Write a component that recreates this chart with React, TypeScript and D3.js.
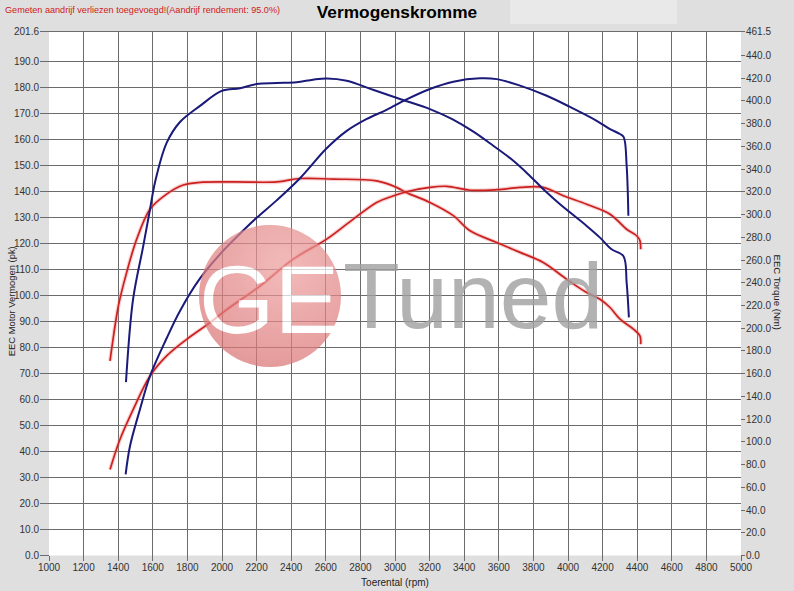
import React from "react";
import * as d3 from "d3";

// ---------- data ----------
const title = "Vermogenskromme";
const note = "Gemeten aandrijf verliezen toegevoegd!(Aandrijf rendement: 95.0%)";
const xLabel = "Toerental (rpm)";
const yLeftLabel = "EEC Motor Vermogen (pk)";
const yRightLabel = "EEC Torque (Nm)";

const xTicks = [1000, 1200, 1400, 1600, 1800, 2000, 2200, 2400, 2600, 2800, 3000, 3200, 3400, 3600, 3800, 4000, 4200, 4400, 4600, 4800, 5000];
const leftTicks = [0, 10, 20, 30, 40, 50, 60, 70, 80, 90, 100, 110, 120, 130, 140, 150, 160, 170, 180, 190, 201.6];
const rightTicks = [0, 20, 40, 60, 80, 100, 120, 140, 160, 180, 200, 220, 240, 260, 280, 300, 320, 340, 360, 380, 400, 420, 440, 461.5];

// tuned power (pk)
const tunedPowerRpm = [1443, 1468, 1526, 1584, 1680, 1757, 1873, 1998, 2124, 2200, 2316, 2451, 2605, 2721, 2837, 2951, 3067, 3202, 3337, 3491, 3588, 3723, 3877, 4012, 4166, 4243, 4300, 4322, 4339, 4349];
const tunedPowerPk = [31.2, 42, 56.2, 69, 83.5, 94, 106.5, 116.5, 125, 129.8, 136.5, 145, 156.5, 163.2, 167.8, 171.3, 175.3, 179.3, 182.1, 183.4, 183.1, 180.6, 176.7, 172.4, 167.1, 163.9, 162, 160.8, 149.8, 130.6];

// tuned torque (Nm)
const tunedTorqueRpm = [1445, 1486, 1545, 1584, 1613, 1680, 1757, 1873, 1998, 2104, 2200, 2316, 2431, 2526, 2605, 2721, 2873, 3050, 3202, 3328, 3453, 3568, 3684, 3780, 3867, 3954, 4108, 4185, 4252, 4320, 4339, 4352];
const tunedTorqueNm = [152.5, 225.5, 272.4, 304.7, 328.5, 363, 381.4, 395.6, 408.8, 411.1, 414.8, 415.7, 416.4, 418.7, 419.8, 417.8, 409.8, 400.6, 392.8, 384.1, 372.9, 360.5, 347.3, 334, 320.9, 309, 290, 279.7, 269.4, 263.5, 240, 209.5];

// stock torque (Nm)
const stockTorqueRpm = [1353, 1362, 1401, 1449, 1507, 1584, 1680, 1776, 1873, 2066, 2316, 2451, 2643, 2894, 3009, 3067, 3202, 3337, 3434, 3588, 3723, 3857, 3992, 4108, 4185, 4243, 4301, 4378, 4416, 4420];
const stockTorqueNm = [171.2, 181.5, 219.5, 249.1, 278.4, 304.7, 318, 326, 328.3, 328.7, 328.7, 331.7, 331.2, 329.6, 323.9, 319.3, 310.6, 299, 285.7, 275.4, 266.7, 257.8, 243.1, 231.4, 225.5, 218.2, 207.9, 199.2, 193.2, 185.9];

// stock power (pk)
const stockPowerRpm = [1353, 1410, 1487, 1584, 1680, 1796, 1931, 2027, 2220, 2412, 2605, 2759, 2894, 2980, 3067, 3202, 3299, 3434, 3588, 3723, 3857, 3973, 4108, 4243, 4339, 4397, 4416, 4420];
const stockPowerPk = [33.1, 44.6, 56.2, 69, 76.7, 83.1, 89.5, 94.5, 103.6, 113.9, 121.6, 129.3, 135.7, 138, 139.8, 141.5, 141.9, 140.4, 140.6, 141.5, 141.5, 138.3, 135, 131.2, 125.4, 122.9, 121, 117.7];

// ---------- layout ----------
const W = 794;
const H = 591;
const X0 = 49, X1 = 741, YB = 555.5, YT = 31;
const FONT = "'Liberation Sans', Arial, Helvetica, sans-serif";

export default function App() {
  const x = d3.scaleLinear().domain([1000, 5000]).range([X0, X1]);
  const yL = d3.scaleLinear().domain([0, 201.6]).range([YB, YT]);
  const yR = d3.scaleLinear().domain([0, 461.5]).range([YB, YT]);

  const mk = (rpm: number[], vals: number[], ys: d3.ScaleLinear<number, number>) =>
    d3
      .line<number>()
      .x((_, i) => x(rpm[i]))
      .y((v) => ys(v))
      .curve(d3.curveCatmullRom.alpha(0.5))(vals) || "";

  const blue = "#1a1a7a";
  const red = "#cc2020";

  const series = [
    { d: mk(stockTorqueRpm, stockTorqueNm, yR), c: red, halo: true },
    { d: mk(stockPowerRpm, stockPowerPk, yL), c: red, halo: true },
    { d: mk(tunedTorqueRpm, tunedTorqueNm, yR), c: blue, halo: false },
    { d: mk(tunedPowerRpm, tunedPowerPk, yL), c: blue, halo: false },
  ];

  return (
    <svg
      width={W}
      height={H}
      style={{ position: "absolute", left: 0, top: 0, display: "block" }}
      fontFamily={FONT}
    >
      <defs>
        <radialGradient id="wmGrad" cx="0.6" cy="0.3" r="0.8">
          <stop offset="0" stopColor="#eea0a0" />
          <stop offset="1" stopColor="#d97070" />
        </radialGradient>
      </defs>
      <rect x={0} y={0} width={W} height={H} fill="#dfdfdf" />
      <rect x={510} y={0} width={167} height={24} fill="#e9e9e9" />
      <rect x={X0} y={YT} width={X1 - X0} height={YB - YT} fill="#ffffff" />

      {/* header */}
      <text x={5} y={13} fontSize={9.1} fill="#d02020">
        {note}
      </text>
      <text x={397} y={18} fontSize={17.3} fontWeight="bold" textAnchor="middle" fill="#000">
        {title}
      </text>

      {/* grid */}
      {xTicks.slice(1, -1).map((t) => (
        <line key={"gx" + t} x1={x(t)} x2={x(t)} y1={YT} y2={YB} stroke="#6b6b6b" strokeWidth={1} shapeRendering="crispEdges" />
      ))}
      {leftTicks.slice(1).map((t) => (
        <line key={"gy" + t} x1={X0} x2={X1} y1={yL(t)} y2={yL(t)} stroke="#6b6b6b" strokeWidth={1} shapeRendering="crispEdges" />
      ))}

      {/* left axis */}
      {leftTicks.map((t) => (
        <g key={"lt" + t}>
          <line x1={X0 - 9} x2={X0} y1={yL(t)} y2={yL(t)} stroke="#6b6b6b" shapeRendering="crispEdges" />
          <text x={X0 - 10} y={yL(t) + 3.5} fontSize={10} textAnchor="end" fill="#333">
            {t.toFixed(1)}
          </text>
        </g>
      ))}
      {/* right axis */}
      {rightTicks.map((t) => (
        <g key={"rt" + t}>
          <line x1={X1} x2={X1 + 4} y1={yR(t)} y2={yR(t)} stroke="#6b6b6b" shapeRendering="crispEdges" />
          <text x={X1 + 5} y={yR(t) + 3.5} fontSize={10} textAnchor="start" fill="#333">
            {t.toFixed(1)}
          </text>
        </g>
      ))}
      {/* x axis */}
      {xTicks.map((t) => (
        <g key={"xt" + t}>
          <line x1={x(t)} x2={x(t)} y1={YB} y2={YB + 5} stroke="#6b6b6b" shapeRendering="crispEdges" />
          <text x={x(t)} y={571} fontSize={10} textAnchor="middle" fill="#333">
            {t}
          </text>
        </g>
      ))}
      <text x={(X0 + X1) / 2} y={586} fontSize={10} textAnchor="middle" fill="#222">
        {xLabel}
      </text>
      <text
        transform={`translate(15, ${(YT + YB) / 2 + 8}) rotate(-90)`}
        fontSize={9.4}
        textAnchor="middle"
        fill="#222"
      >
        {yLeftLabel}
      </text>
      <text
        transform={`translate(774, ${(YT + YB) / 2 - 1}) rotate(90)`}
        fontSize={9.6}
        textAnchor="middle"
        fill="#222"
      >
        {yRightLabel}
      </text>

      {/* curves */}
      {series.map((s, i) => (
        <g key={"s" + i}>
          {s.halo && <path d={s.d} fill="none" stroke="#e87a7a" strokeWidth={4} strokeOpacity={0.35} />}
          <path d={s.d} fill="none" stroke={s.c} strokeWidth={s.halo ? 1.7 : 2} strokeLinejoin="round" />
        </g>
      ))}

      {/* watermark */}
      <g opacity={0.72}>
        <circle cx={270} cy={296} r={71} fill="url(#wmGrad)" />
        <text x={199} y={333} fontSize={97} fill="#ffffff" fontFamily={FONT}>
          GE
        </text>
      </g>
      <text x={343} y={328} fontSize={93} fill="#a0a0a0" opacity={0.8} fontFamily={FONT}>
        Tuned
      </text>
    </svg>
  );
}
